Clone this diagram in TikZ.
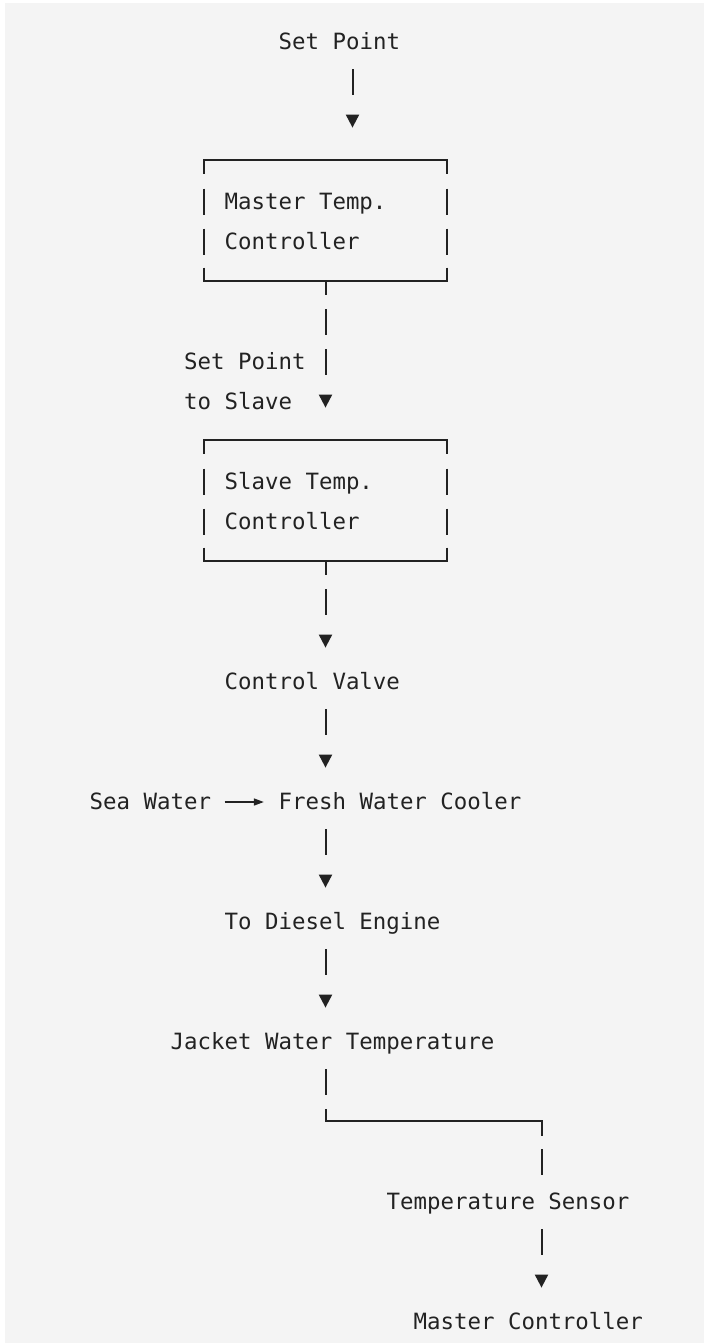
\documentclass[tikz,border=0pt]{standalone}
\usepackage{fontspec}
\setmonofont{DejaVu Sans Mono}
\usepackage{tikz}
\usetikzlibrary{arrows.meta}

\definecolor{paper}{HTML}{F4F4F4}
\definecolor{ink}{HTML}{222222}

\begin{document}
\begin{tikzpicture}[
  x=6.75pt, y=-20pt, % one unit = one character cell / one text row
  font=\ttfamily\fontsize{11.2pt}{20pt}\selectfont,
  > = {Triangle[width=6.5pt,length=6.5pt]},
  txt/.style = {anchor=west, inner sep=0pt, minimum height=20pt, text height=8pt, text depth=0.5pt, text=ink},
  ctrl/.style = {inner sep=0pt, minimum width=121.5pt, minimum height=60pt},
  rule/.style = {draw=ink, line width=1pt},
  edge/.style = {rule, line cap=rect},
  side/.style = {rule, dash pattern=on 7pt off 7.25pt on 13pt off 7pt on 13pt off 6.5pt on 6.25pt off 20pt},
  link/.style = {rule, ->, dash pattern=on 13pt off 60pt, shorten <=3.5pt, shorten >=7pt}
  ]
  \fill[white] (-15.111,-1.05) rectangle (37.037,32.525);
  \fill[paper] (-14.74,-0.975) rectangle (37.037,32.525);

  \coordinate (feed) at (11,0);
  \coordinate (spine) at (9,0);
  \coordinate (bend) at (25,26.9625);

  % controllers
  \node[ctrl] (master) at (9,4.4625) {};
  \node[ctrl] (slave) at (9,11.4625) {};
  \foreach \b in {master, slave} {
    \draw[edge] (\b.north west) -- (\b.north east);
    \draw[edge] (\b.south west) -- (\b.south east);
    \draw[side] (\b.north west) -- (\b.south west);
    \draw[side] (\b.north east) -- (\b.south east);
  }

  \node[txt] (sp) at (5.5,0) {Set Point};
  \node[txt] (mt1) at (1.5,4) {Master Temp.};
  \node[txt] (mt2) at (1.5,5) {Controller};
  \node[txt] (spl1) at (-1.5,8) {Set Point};
  \node[txt] (spl2) at (-1.5,9) {to Slave};
  \node[txt] (st1) at (1.5,11) {Slave Temp.};
  \node[txt] (st2) at (1.5,12) {Controller};
  \node[txt] (cv) at (1.5,16) {Control Valve};
  \node[txt] (sea) at (-8.5,19) {Sea Water};
  \node[txt] (fwc) at (5.5,19) {Fresh Water Cooler};
  \node[txt] (tde) at (1.5,22) {To Diesel Engine};
  \node[txt] (jwt) at (-2.5,25) {Jacket Water Temperature};
  \node[txt] (ts) at (13.5,29) {Temperature Sensor};
  \node[txt] (mc) at (15.5,32) {Master Controller};

  % signal path
  \draw[link, shorten >=16.25pt] (sp.south -| feed) -- (master.north -| feed);
  \draw[link, shorten <=0pt, shorten >=16.25pt,
        dash pattern=on 7.25pt off 7pt on 13pt off 7pt on 13pt off 60pt]
    (master.south -| spine) -- (slave.north -| spine);
  \draw[link, shorten <=0pt,
        dash pattern=on 7.25pt off 7pt on 13pt off 60pt]
    (slave.south -| spine) -- (cv.north -| spine);
  \draw[link] (cv.south -| spine) -- (fwc.north -| spine);
  \draw[rule, line width=0.7pt, -{Triangle[width=3.5pt,length=5pt]},
        shorten <=6.6pt, shorten >=7.2pt] (sea.east) -- (fwc.west);
  \draw[link] (fwc.south -| spine) -- (tde.north -| spine);
  \draw[link] (tde.south -| spine) -- (jwt.north -| spine);
  \draw[rule, shorten <=3.5pt,
        dash pattern=on 13pt off 7pt on 121.5pt off 6.5pt on 13pt off 60pt]
    (jwt.south -| spine) |- (bend) -- (ts.north -| bend);
  \draw[link] (ts.south -| bend) -- (mc.north -| bend);
\end{tikzpicture}
\end{document}
